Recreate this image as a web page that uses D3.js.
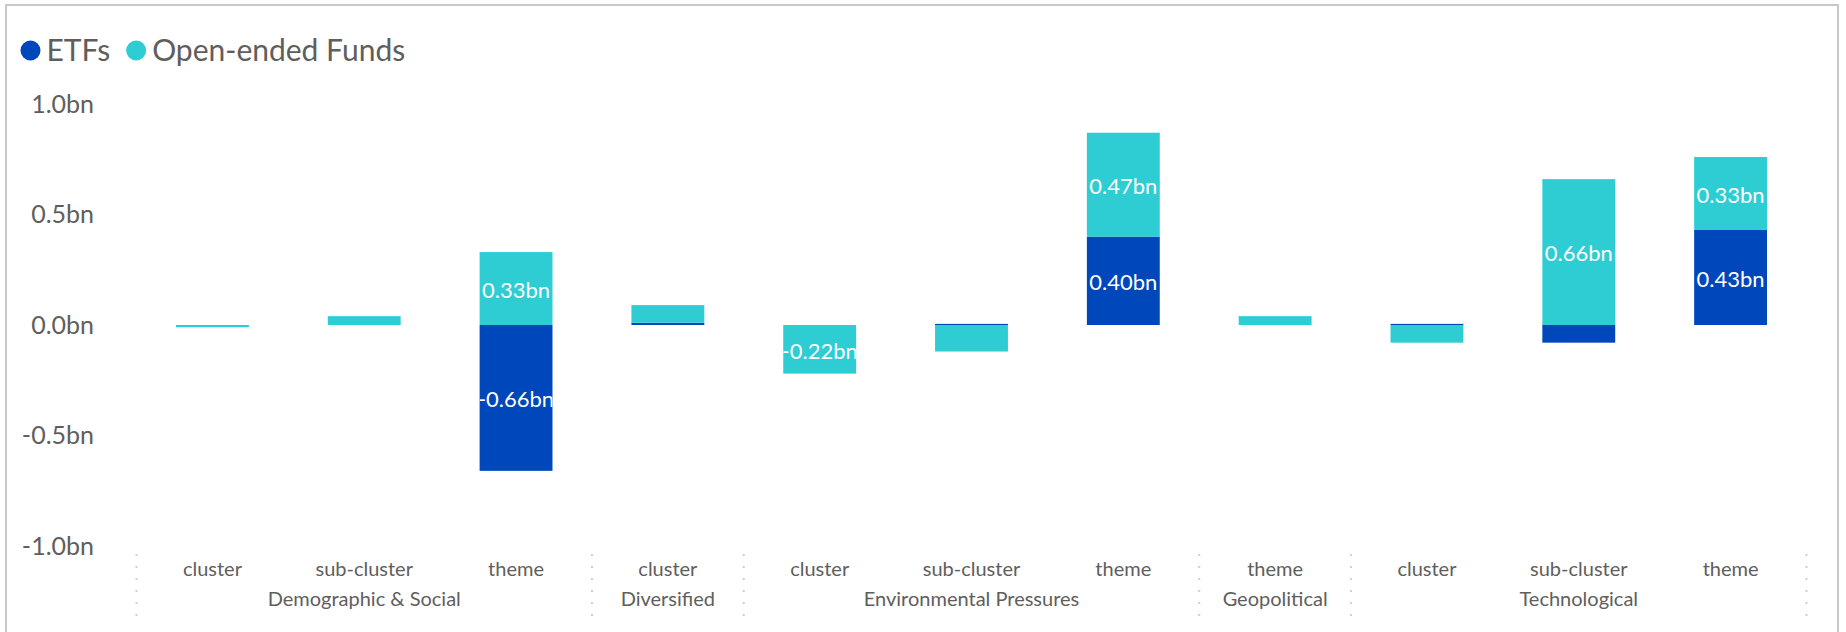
<!DOCTYPE html>
<html>
<head>
<meta charset="utf-8">
<script src="https://cdn.jsdelivr.net/npm/d3@7/dist/d3.min.js"></script>
<style>
  html, body { margin: 0; padding: 0; background: #fff; }
  svg { display: block; font-family: "Lato", "Open Sans", sans-serif; }
</style>
</head>
<body>
<svg id="chart" width="1846" height="632"></svg>
<script>
// Net flows by theme level, in billions
const levels = ["cluster", "sub-cluster", "theme", "cluster", "cluster", "sub-cluster", "theme", "theme", "cluster", "sub-cluster", "theme"];
const groups = ["Demographic & Social", "Demographic & Social", "Demographic & Social", "Diversified",
  "Environmental Pressures", "Environmental Pressures", "Environmental Pressures", "Geopolitical",
  "Technological", "Technological", "Technological"];
const etfs = [0, 0, -0.66, 0.01, 0, 0.005, 0.40, 0, 0.005, -0.08, 0.43];
const openEnded = [-0.01, 0.04, 0.33, 0.08, -0.22, -0.12, 0.47, 0.04, -0.08, 0.66, 0.33];
const seriesNames = ["ETFs", "Open-ended Funds"];
const seriesColors = ["#0047BB", "#2ECCD3"];
const yTicks = [-1, -0.5, 0, 0.5, 1];

const svg = d3.select("#chart");
const textColor = "#605E5C";

// plain hyphen for negatives
const locale = d3.formatLocale({ decimal: ".", thousands: ",", grouping: [3], currency: ["", ""], minus: "-" });
const fmt1 = locale.format(".1f");
const fmt2 = locale.format(".2f");

// frame
svg.append("rect")
  .attr("x", 6).attr("y", 5).attr("width", 1832).attr("height", 660)
  .attr("fill", "none").attr("stroke", "#c8c8c8").attr("stroke-width", 2);

const rows = levels.map((lv, i) => ({ i, key: i, level: lv, group: groups[i], ETFs: etfs[i], "Open-ended Funds": openEnded[i] }));

const x = d3.scaleBand()
  .domain(rows.map(d => d.key))
  .range([136.5, 1806.5])
  .paddingInner(0.52)
  .paddingOuter(0.26);

const y = d3.scaleLinear().domain([-1, 1]).range([546, 104]);

const stack = d3.stack().keys(seriesNames).offset(d3.stackOffsetDiverging);
const stacked = stack(rows);

// legend
const legend = svg.append("g").attr("transform", "translate(30.5,50.5)");
let lx = 0;
seriesNames.forEach((name, k) => {
  const g = legend.append("g").attr("transform", `translate(${lx},0)`);
  g.append("circle").attr("r", 10).attr("fill", seriesColors[k]);
  const t = g.append("text").attr("x", 16).attr("y", 0).attr("dy", "0.36em")
    .attr("font-size", 30).attr("fill", textColor).text(name);
  lx += 16 + t.node().getComputedTextLength() + 26;
});

// y axis labels
const yAxis = svg.append("g").attr("transform", "translate(94,0)")
  .call(d3.axisLeft(y).tickValues(yTicks).tickSize(0).tickPadding(0)
    .tickFormat(d => fmt1(d) + "bn"));
yAxis.select(".domain").remove();
yAxis.selectAll("text").attr("font-size", 25).attr("fill", textColor)
  .attr("font-family", "Lato, 'Open Sans', sans-serif");

// bars
const defs = svg.append("defs");
const barsG = svg.append("g");
const labelsG = svg.append("g");
const fmt = v => fmt2(v) + "bn";

stacked.forEach((layer, k) => {
  layer.forEach((seg, i) => {
    const v = rows[i][seriesNames[k]];
    if (v === 0) return;
    const y0 = y(Math.max(seg[0], seg[1]));
    const y1 = y(Math.min(seg[0], seg[1]));
    const bx = x(rows[i].key), bw = x.bandwidth();
    barsG.append("rect")
      .attr("x", bx).attr("y", y0).attr("width", bw).attr("height", Math.max(1, y1 - y0))
      .attr("fill", seriesColors[k]);
    if (Math.abs(v) >= 0.2) {
      const id = `clip-${k}-${i}`;
      defs.append("clipPath").attr("id", id).append("rect")
        .attr("x", bx).attr("y", y0).attr("width", bw).attr("height", y1 - y0);
      labelsG.append("text")
        .attr("clip-path", `url(#${id})`)
        .attr("x", bx + bw / 2).attr("y", (y0 + y1) / 2).attr("dy", "0.42em")
        .attr("text-anchor", "middle").attr("font-size", 22).attr("fill", "#fff")
        .text(fmt(v));
    }
  });
});

// category axis: level row and group row
const axisG = svg.append("g");
axisG.selectAll("text.level").data(rows).join("text")
  .attr("class", "level")
  .attr("x", d => x(d.key) + x.bandwidth() / 2).attr("y", 569).attr("dy", "0.35em")
  .attr("text-anchor", "middle").attr("font-size", 20).attr("fill", textColor)
  .text(d => d.level);

const groupSpans = [];
rows.forEach((d, i) => {
  const last = groupSpans[groupSpans.length - 1];
  if (last && last.name === d.group) last.end = i;
  else groupSpans.push({ name: d.group, start: i, end: i });
});
const step = x.step();
const edgeX = i => x(rows[i].key) - x.paddingOuter() * step;
groupSpans.forEach(g => {
  g.x0 = edgeX(g.start);
  g.x1 = edgeX(g.end) + step;
});

axisG.selectAll("text.group").data(groupSpans).join("text")
  .attr("class", "group")
  .attr("x", d => (d.x0 + d.x1) / 2).attr("y", 599).attr("dy", "0.35em")
  .attr("text-anchor", "middle").attr("font-size", 20).attr("fill", textColor)
  .text(d => d.name);

const seps = [groupSpans[0].x0, ...groupSpans.map(g => g.x1)];
axisG.selectAll("line.sep").data(seps).join("line")
  .attr("class", "sep")
  .attr("x1", d => d).attr("x2", d => d).attr("y1", 554).attr("y2", 618)
  .attr("stroke", "#d0d0d0").attr("stroke-width", 2).attr("stroke-dasharray", "2,10");
</script>
</body>
</html>
